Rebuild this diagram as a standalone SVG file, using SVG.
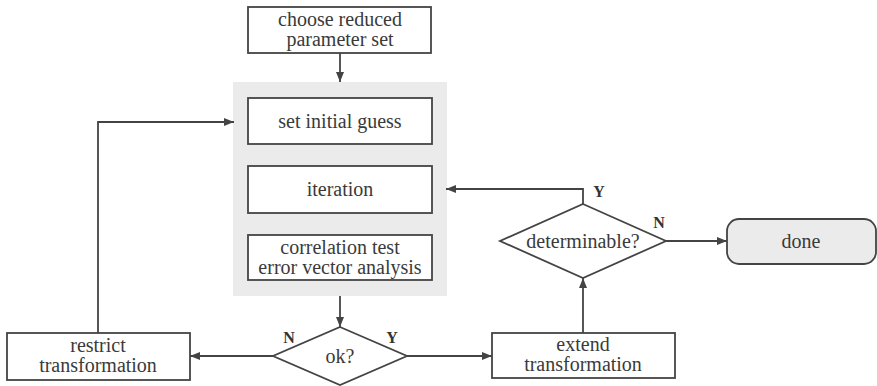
<svg xmlns="http://www.w3.org/2000/svg" width="877" height="386" viewBox="0 0 877 386">
<defs>
<marker id="ah" viewBox="0 0 10 8" refX="10" refY="4" markerWidth="10" markerHeight="8" markerUnits="userSpaceOnUse" orient="auto">
<path d="M0,0 L10,4 L0,8 Z" fill="#444"/>
</marker>
</defs>
<style>
.box{fill:#fff;stroke:#444;stroke-width:1.8}
.shade{fill:#ebebeb;stroke:none}
.t{font-family:'Liberation Serif','DejaVu Serif',serif;font-size:20px;fill:#3a3a3a;text-anchor:middle}
.lb{font-family:'Liberation Serif','DejaVu Serif',serif;font-size:16px;font-weight:bold;fill:#333;text-anchor:middle}
.c{fill:none;stroke:#444;stroke-width:1.8;marker-end:url(#ah)}
</style>
<rect width="877" height="386" fill="#fff"/>
<rect id="group-bg" class="shade" x="233" y="82" width="214" height="214"/>
<g id="choose">
<rect class="box" x="248" y="7" width="183" height="46"/>
<text class="t" x="340" y="26">choose reduced</text>
<text class="t" x="340" y="46">parameter set</text>
</g>
<g id="guess">
<rect class="box" x="248" y="98" width="184" height="46"/>
<text class="t" x="340" y="128">set initial guess</text>
</g>
<g id="iteration">
<rect class="box" x="248" y="166" width="184" height="47"/>
<text class="t" x="340" y="196">iteration</text>
</g>
<g id="correlation">
<rect class="box" x="248" y="235" width="184" height="45"/>
<text class="t" x="340" y="254">correlation test</text>
<text class="t" x="340" y="274">error vector analysis</text>
</g>
<g id="ok">
<polygon class="box" points="340,327 407,356 340,385 273,356"/>
<text class="t" x="340" y="363">ok?</text>
</g>
<g id="restrict">
<rect class="box" x="7" y="333" width="183" height="47"/>
<text class="t" x="98" y="352">restrict</text>
<text class="t" x="98" y="372">transformation</text>
</g>
<g id="extend">
<rect class="box" x="492" y="333" width="183" height="45"/>
<text class="t" x="583" y="351">extend</text>
<text class="t" x="583" y="371">transformation</text>
</g>
<g id="determinable">
<polygon class="box" points="583,204 666,241 583,278 500,241"/>
<text class="t" x="583" y="248">determinable?</text>
</g>
<g id="done">
<rect x="727" y="219" width="149" height="45" rx="12" ry="12" fill="#ebebeb" stroke="#444" stroke-width="1.8"/>
<text class="t" x="801" y="248">done</text>
</g>
<g id="connectors">
<path class="c" d="M340,53 L340,82"/>
<path class="c" d="M340,296 L340,327"/>
<path class="c" d="M273,356 L190,356"/>
<path class="c" d="M407,356 L492,356"/>
<path class="c" d="M98,333 L98,122 L234,122"/>
<path class="c" d="M583,333 L583,278"/>
<path class="c" d="M583,204 L583,189 L446,189"/>
<path class="c" d="M666,241 L727,241"/>
<text class="lb" x="289" y="343">N</text>
<text class="lb" x="392" y="343">Y</text>
<text class="lb" x="599" y="197">Y</text>
<text class="lb" x="659" y="228">N</text>
</g>
</svg>
